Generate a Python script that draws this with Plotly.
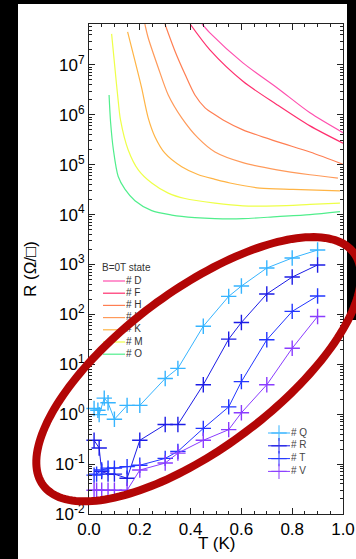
import numpy as np
import plotly.graph_objects as go

# ---- B = 0 T sweeps, continuous R(T) curves (ohm per square) ----
T_D = [0.445, 0.476, 0.606, 0.740, 0.870, 1.000]
R_D = [6.6e7, 4.4e7, 1.1e7, 3.5e6, 1.1e6, 4.4e5]

T_F = [0.398, 0.476, 0.606, 0.740, 0.870, 1.000]
R_F = [6.6e7, 2.0e7, 4.7e6, 1.6e6, 6.0e5, 2.7e5]

T_H = [0.299, 0.339, 0.378, 0.417, 0.457, 0.496, 0.528, 0.606, 0.740, 0.870, 1.000]
R_H = [6.6e7, 1.86e7, 6.5e6, 2.5e6, 1.38e6, 1.0e6, 7.9e5, 5.0e5, 2.9e5, 1.8e5, 1.02e5]

T_I = [0.220, 0.233, 0.273, 0.312, 0.365, 0.430, 0.496, 0.606, 0.740, 0.870, 0.980]
R_I = [6.6e7, 3.5e7, 8.7e6, 2.5e6, 8.7e5, 3.4e5, 1.8e5, 1.1e5, 7.9e4, 6.3e4, 5.4e4]

T_K = [0.152, 0.181, 0.207, 0.233, 0.260, 0.299, 0.365, 0.431, 0.496, 0.555, 0.673, 0.803, 0.988]
R_K = [4.6e7, 1.2e7, 3.5e6, 8.7e5, 3.6e5, 1.7e5, 9.1e4, 6.3e4, 5.1e4, 4.3e4, 3.4e4, 3.2e4, 3.0e4]

T_M = [0.089, 0.102, 0.115, 0.124, 0.154, 0.194, 0.247, 0.312, 0.378, 0.496, 0.606, 0.740, 0.870, 0.988]
R_M = [4.2e7, 8.7e6, 1.9e6, 7.9e5, 2.0e5, 7.9e4, 4.3e4, 2.7e4, 2.1e4, 1.7e4, 1.5e4, 1.5e4, 1.6e4, 1.7e4]

T_O = [0.079, 0.085, 0.096, 0.115, 0.142, 0.181, 0.247, 0.326, 0.417, 0.496, 0.606, 0.740, 0.870, 0.988]
R_O = [2.5e6, 7.1e5, 2.0e5, 5.8e4, 3.2e4, 1.9e4, 1.2e4, 9.8e3, 8.7e3, 8.3e3, 8.3e3, 9.1e3, 1.0e4, 1.15e4]

CURVE_NAMES = ["# D", "# F", "# H", "# I", "# K", "# M", "# O"]
CURVE_T = [T_D, T_F, T_H, T_I, T_K, T_M, T_O]
CURVE_R = [R_D, R_F, R_H, R_I, R_K, R_M, R_O]
CURVE_COLORS = ["#ff4fae", "#ff2f6e", "#ff7e52", "#ff9a5a", "#ffb445", "#eeff48", "#50ee8c"]

# ---- point-by-point measurements on the superconducting-side states ----
T_Q = [0.02, 0.035, 0.04, 0.06, 0.075, 0.10, 0.15, 0.20, 0.30, 0.35, 0.45, 0.55, 0.60, 0.70, 0.80, 0.90]
R_Q = [1.3, 1.2, 0.98, 2.1, 1.7, 0.79, 1.5, 1.5, 5.2, 8.3, 58, 230, 370, 850, 1350, 1950]

T_R = [0.02, 0.04, 0.05, 0.075, 0.10, 0.15, 0.20, 0.30, 0.35, 0.45, 0.55, 0.60, 0.70, 0.80, 0.90]
R_R = [0.30, 0.21, 0.071, 0.063, 0.063, 0.052, 0.30, 0.62, 0.62, 3.9, 32, 69, 257, 560, 980]

T_T = [0.02, 0.03, 0.05, 0.075, 0.10, 0.15, 0.20, 0.30, 0.35, 0.45, 0.55, 0.60, 0.70, 0.80, 0.90]
R_T = [0.060, 0.063, 0.076, 0.083, 0.083, 0.089, 0.095, 0.13, 0.18, 0.52, 1.4, 4.5, 31, 115, 234]

T_V = [0.02, 0.03, 0.05, 0.075, 0.10, 0.15, 0.20, 0.30, 0.35, 0.45, 0.55, 0.60, 0.70, 0.80, 0.90]
R_V = [0.03, 0.03, 0.03, 0.03, 0.03, 0.03, 0.076, 0.105, 0.166, 0.30, 0.49, 1.07, 3.9, 21, 91]

POINT_NAMES = ["# Q", "# R", "# T", "# V"]
POINT_T = [T_Q, T_R, T_T, T_V]
POINT_R = [R_Q, R_R, R_T, R_V]
POINT_COLORS = ["#36b4ff", "#1c1ce6", "#2236ff", "#8a3cff"]

X_TICKS = [0.0, 0.2, 0.4, 0.6, 0.8, 1.0]
Y_EXPONENTS = [-2, -1, 0, 1, 2, 3, 4, 5, 6, 7]

# ---- page geometry (pixels) ----
W, H = 356, 559
PL, PR, PT, PB = 89, 343, 24, 514
FONT = "Liberation Sans, Arial, Helvetica, sans-serif"


def px(x):
    return (x - PL) / (PR - PL)


def py(y):
    return (PB - y) / (PB - PT)


fig = go.Figure()

for name, t, r, c in zip(CURVE_NAMES, CURVE_T, CURVE_R, CURVE_COLORS):
    fig.add_trace(go.Scatter(x=t, y=r, mode="lines", name=name,
                             line=dict(color=c, width=1.2, shape="spline", smoothing=0.8),
                             showlegend=False))

for name, t, r, c in zip(POINT_NAMES, POINT_T, POINT_R, POINT_COLORS):
    fig.add_trace(go.Scatter(x=t, y=r, mode="lines+markers", name=name,
                             line=dict(color=c, width=1),
                             marker=dict(symbol="cross-thin", size=11,
                                         line=dict(color=c, width=1.4)),
                             showlegend=False, cliponaxis=False))

# ---- hand-placed keys on an overlay axis measured in page pixels ----
KEY_X0, KEY_X1, KEY_ROW0, KEY_DY = 103, 125, 281, 12.2
fig.add_trace(go.Scatter(x=[KEY_X0 - 1], y=[268], xaxis="x2", yaxis="y2", mode="text",
                         text=["B=0T state"], textposition="middle right",
                         textfont=dict(family=FONT, size=10, color="#333"),
                         showlegend=False, hoverinfo="skip"))
for i, (name, c) in enumerate(zip(CURVE_NAMES, CURVE_COLORS)):
    yy = KEY_ROW0 + i * KEY_DY
    fig.add_trace(go.Scatter(x=[KEY_X0, KEY_X1], y=[yy, yy], xaxis="x2", yaxis="y2",
                             mode="lines", line=dict(color=c, width=1.2),
                             showlegend=False, hoverinfo="skip"))
    fig.add_trace(go.Scatter(x=[KEY_X1 + 1], y=[yy], xaxis="x2", yaxis="y2", mode="text",
                             text=[name], textposition="middle right",
                             textfont=dict(family=FONT, size=10, color="#333"),
                             showlegend=False, hoverinfo="skip"))

PKEY_X0, PKEY_X1, PKEY_ROW0, PKEY_DY = 268, 290, 433, 12.8
for i, (name, c) in enumerate(zip(POINT_NAMES, POINT_COLORS)):
    yy = PKEY_ROW0 + i * PKEY_DY
    fig.add_trace(go.Scatter(x=[PKEY_X0, (PKEY_X0 + PKEY_X1) / 2, PKEY_X1], y=[yy, yy, yy],
                             xaxis="x2", yaxis="y2", mode="lines+markers",
                             line=dict(color=c, width=1),
                             marker=dict(symbol="cross-thin", size=[0, 11, 0],
                                         line=dict(color=c, width=1.4)),
                             showlegend=False, hoverinfo="skip"))
    fig.add_trace(go.Scatter(x=[PKEY_X1 + 1], y=[yy], xaxis="x2", yaxis="y2", mode="text",
                             text=[name], textposition="middle right",
                             textfont=dict(family=FONT, size=10, color="#444"),
                             showlegend=False, hoverinfo="skip"))

# ---- dark page border strips, then the highlighting ellipse on top ----
def strip(x0, x1, y0, y1):
    return dict(type="rect", xref="paper", yref="paper", layer="above",
                x0=px(x0), x1=px(x1), y0=py(y1), y1=py(y0),
                fillcolor="black", line=dict(width=0))


shapes = [strip(-2, 18, -2, H + 2), strip(-2, W + 2, -2, 4), strip(347, W + 2, -2, 320)]

cx, cy, a, b, phi = 198.6, 369.2, 194.0, 78.5, np.radians(36.8)
th = np.linspace(0, 2 * np.pi, 181)
ex = cx + a * np.cos(th) * np.cos(phi) + b * np.sin(th) * np.sin(phi)
ey = cy - a * np.cos(th) * np.sin(phi) + b * np.sin(th) * np.cos(phi)
path = "M " + " L ".join(f"{px(x):.5f},{py(y):.5f}" for x, y in zip(ex, ey)) + " Z"
shapes.append(dict(type="path", xref="paper", yref="paper", layer="above", path=path,
                   line=dict(color="#b30606", width=8)))

axis_common = dict(showline=True, linecolor="#222", linewidth=1, mirror="allticks",
                   ticks="inside", tickcolor="#222", ticklen=6, showgrid=False, zeroline=False,
                   tickfont=dict(family=FONT, size=17, color="black"))

title_font = dict(family=FONT, size=17, color="black")
fig.update_layout(
    width=W, height=H,
    margin=dict(l=PL, r=W - PR, t=PT, b=H - PB, autoexpand=False),
    paper_bgcolor="white", plot_bgcolor="white",
    showlegend=False,
    shapes=shapes,
    annotations=[
        dict(text="T (K)", xref="paper", yref="paper", x=0.5, y=py(543),
             xanchor="center", yanchor="middle", showarrow=False, font=title_font),
        dict(text="R (Ω/□)", xref="paper", yref="paper", x=px(30), y=0.5, textangle=-90,
             xanchor="center", yanchor="middle", showarrow=False, font=title_font),
    ],
    xaxis=dict(range=[0, 1.0], tickvals=X_TICKS, ticktext=[f"{v:.1f}" for v in X_TICKS],
               minor=dict(ticks="inside", dtick=0.05, ticklen=3, tickcolor="#222"),
               **axis_common),
    yaxis=dict(type="log", range=[-2, 7.82],
               tickvals=[10.0 ** e for e in Y_EXPONENTS],
               ticktext=[f"10<sup>{e}</sup>" for e in Y_EXPONENTS],
               minor=dict(ticks="inside", dtick="D1", ticklen=3, tickcolor="#222"),
               **axis_common),
    xaxis2=dict(overlaying="x", range=[PL, PR], visible=False, fixedrange=True),
    yaxis2=dict(overlaying="y", range=[PB, PT], visible=False, fixedrange=True),
)

fig.write_html("out.html")
